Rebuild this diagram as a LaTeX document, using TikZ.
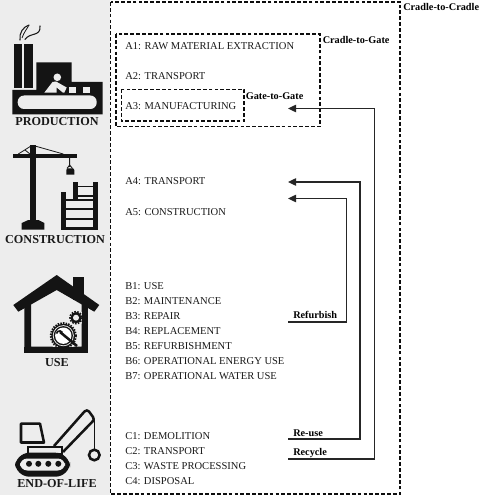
\documentclass[tikz,border=0pt]{standalone}
\usepackage{fontspec}
\setmainfont{Liberation Serif}
\tikzset{
  x=0.75pt,y=-0.75pt,
  lab/.style={anchor=base west,inner sep=0pt,font=\fontsize{7.9}{9}\selectfont,text=black!90},
  blab/.style={anchor=base west,inner sep=0pt,font=\fontsize{7.7}{9}\selectfont\bfseries},
  stage/.style={anchor=base,inner sep=0pt,font=\fontsize{9.15}{11}\selectfont\bfseries,text=black!90},
  bound/.style={draw=black!95,line width=0.85pt,dash pattern=on 2.8pt off 1.6pt},
  flow/.style={draw=black!85,line width=1pt},
  flowtip/.style={flow,-{Triangle[length=6pt,width=5.5pt]}},
  ink/.style={fill=black!92,draw=none},
  paper/.style={fill=black!7,draw=none}
}
\usetikzlibrary{arrows.meta}
\begin{document}
\begin{tikzpicture}
\useasboundingbox (0,0) rectangle (482,495);
\fill[white] (0,0) rectangle (482,495);
\fill[black!7] (0,0) rectangle (110,495);
% boundaries
\draw[bound] (110.5,2) rectangle (400,494);
\draw[bound] (116,34) rectangle (320,126.5);
\draw[bound] (121.5,89.5) rectangle (244,121);
% production icon
\fill[ink] (14,44) rectangle (21.7,88);
\fill[ink] (24.3,44) rectangle (32.7,88);
\fill[ink] (12.3,90) -- (36.3,90) -- (36.3,62.3) -- (71.7,62.3) -- (71.7,82) -- (102.7,82) -- (102.7,114.3) -- (12.3,114.3) -- cycle;
\fill[paper,rounded corners=4.8pt] (17.7,95.5) rectangle (96.7,109);
\fill[paper] (69,86.7) rectangle (75.7,92.7);
\fill[paper] (83.3,86.7) rectangle (89.7,92.7);
\fill[paper] (57.3,77.3) circle (3.8);
\fill[paper] (44.3,92.7) -- (52.5,82) -- (56,81.5) -- (66.7,87.5) -- (64.3,92.7) -- (63,92.7) -- (56.7,87.5) -- (56.7,92.7) -- cycle;
\draw[black!90,line width=0.8pt,line cap=round] (20,40) .. controls (19,33) and (23,27) .. (29,25);
\draw[black!90,line width=0.8pt,line cap=round] (25,39.5) .. controls (30,32) and (41,37) .. (40,26);
\draw[black!90,line width=0.6pt] (29,25) .. controls (27,29) and (24,32) .. (22,38);
% construction icon
\fill[ink] (30,145) rectangle (35.7,222);
\fill[ink] (13.3,154) rectangle (76.7,157.7);
\fill[ink] (28.3,220) -- (38.3,220) -- (44.3,223) -- (44.3,229.5) -- (21.7,229.5) -- (21.7,223) -- cycle;
\draw[black!90,line width=0.6pt] (18.3,154) -- (31,146) (35,146) -- (63.3,154) (30,154) -- (25,150);
\draw[black!90,line width=0.7pt] (69.7,157) -- (69.7,167) (67,168.5) -- (69.7,165) -- (72.5,168.5);
\fill[ink] (67.5,168.3) -- (73.2,168.3) -- (74.3,170) -- (74.3,174.7) -- (66.3,174.7) -- (66.3,170) -- cycle;
\fill[ink] (61,191.7) rectangle (65.7,229.5);
\fill[ink] (93.3,182.3) rectangle (97.7,229.5);
\fill[ink] (73.3,182.3) rectangle (77.7,200);
\fill[ink] (61,199.3) rectangle (97.7,201.3);
\fill[ink] (61,208.3) rectangle (97.7,210.3);
\fill[ink] (61,217.7) rectangle (97.7,219.7);
\fill[ink] (61,227.3) rectangle (97.7,229.5);
\fill[ink] (75,186) rectangle (95,187.5);
\fill[ink] (75,195) rectangle (95,196.7);
% house icon
\fill[ink] (73.3,276.7) rectangle (84,300);
\fill[ink] (56.7,275) -- (99.3,305) -- (94.3,311.7) -- (56.7,290) -- (18.3,311.7) -- (13.3,305) -- cycle;
\fill[ink] (24.3,302) -- (31,298) -- (31,346.7) -- (81.7,346.7) -- (81.7,298) -- (87.7,302) -- (87.7,352.7) -- (24.3,352.7) -- cycle;
\fill[paper] (76,317.7) circle (8);
\draw[black!92,line width=1.2pt,dash pattern=on 1.2pt off 1pt] (76,317.7) circle (6);
\fill[ink] (76,317.7) circle (5.6);
\fill[paper] (76,317.7) circle (3);
\fill[paper] (63.3,335.7) circle (15);
\draw[black!92,line width=1.5pt,dash pattern=on 1.1pt off 0.9pt] (63.3,335.7) circle (12.6);
\fill[ink] (63.3,335.7) circle (12);
\fill[paper] (63.3,335.7) circle (10.5);
\fill[ink] (63.3,335.7) circle (9.6);
\fill[white] (63.3,335.7) circle (8.2);
\draw[black!92,line width=1.9pt] (60,332) -- (77,346);
\draw[black!92,line width=1.2pt] (56.5,333.5) arc[start angle=190,end angle=330,radius=3.2];
\fill[ink] (24.3,346.7) rectangle (87.7,352.7);
\fill[ink] (81.7,305) rectangle (87.7,352.7);
% excavator icon
\draw[black!92,line width=1.9pt,line join=round] (21,423.7) -- (40,423.7) -- (44,442.5) -- (21,442.5) -- cycle;
\draw[black!92,line width=1.5pt] (27.5,447) rectangle (62,453.5);
\draw[black!92,line width=1.9pt,line join=round] (54,446) -- (84.5,411.5) .. controls (86,410) and (88,410) .. (89,411.5) -- (93,417) .. controls (94,419) and (94,420) .. (93,421) -- (63,452);
\draw[black!92,line width=0.9pt] (94.3,420) -- (94.3,449);
\draw[black!92,line width=1.9pt] (94.3,455) circle (5.3);
\fill[ink,rounded corners=11pt] (15,452.7) rectangle (70,476.7);
\fill[paper,rounded corners=5.5pt] (20,458.5) rectangle (65,470.5);
\foreach \cx in {29,38.3,48.3,58.3} \fill[ink] (\cx,463.8) circle (3);
% stage captions
\node[stage] (production) at (57,126) {PRODUCTION};
\node[stage] (construction) at (55,243.3) {CONSTRUCTION};
\node[stage] (use) at (57,366) {USE};
\node[stage] (eol) at (57,487.5) {END-OF-LIFE};
% stages
\node[lab] (a1) at (125,50) {A1: RAW MATERIAL EXTRACTION};
\node[lab] (a2) at (125,80) {A2: TRANSPORT};
\node[lab] (a3) at (125,110) {A3: MANUFACTURING};
\node[lab] (a4) at (125,185) {A4: TRANSPORT};
\node[lab] (a5) at (125,215) {A5: CONSTRUCTION};
\node[lab] (b1) at (125,289.5) {B1: USE};
\node[lab] (b2) at (125,304.5) {B2: MAINTENANCE};
\node[lab] (b3) at (125,319.5) {B3: REPAIR};
\node[lab] (b4) at (125,334.5) {B4: REPLACEMENT};
\node[lab] (b5) at (125,349.5) {B5: REFURBISHMENT};
\node[lab] (b6) at (125,364.5) {B6: OPERATIONAL ENERGY USE};
\node[lab] (b7) at (125,379.5) {B7: OPERATIONAL WATER USE};
\node[lab] (c1) at (125,439.5) {C1: DEMOLITION};
\node[lab] (c2) at (125,454.5) {C2: TRANSPORT};
\node[lab] (c3) at (125,469.5) {C3: WASTE PROCESSING};
\node[lab] (c4) at (125,484.5) {C4: DISPOSAL};
% boundary names
\node[blab] (cc) at (403,10.5) {Cradle-to-Cradle};
\node[blab] (cg) at (322.5,43.5) {Cradle-to-Gate};
\node[blab] (gg) at (245.5,99.7) {Gate-to-Gate};
\node[blab] (refurbish) at (293,318.3) {Refurbish};
\node[blab] (reuse) at (293,436.3) {Re-use};
\node[blab] (recycle) at (293,455.7) {Recycle};
% connectors
\coordinate (rfS) at (288,322);
\coordinate (rfC) at (346.5,322);
\coordinate (rfE) at (288,198.5);
\coordinate (ruS) at (288,439);
\coordinate (ruC) at (360,439);
\coordinate (ruE) at (288,182);
\coordinate (rcS) at (288,459);
\coordinate (rcC) at (374.5,459);
\coordinate (rcE) at (288,108.5);
\draw[flowtip] (rfS) -- (rfC) |- (rfE);
\draw[flowtip] (ruS) -- (ruC) |- (ruE);
\draw[flowtip] (rcS) -- (rcC) |- (rcE);
\end{tikzpicture}
\end{document}
